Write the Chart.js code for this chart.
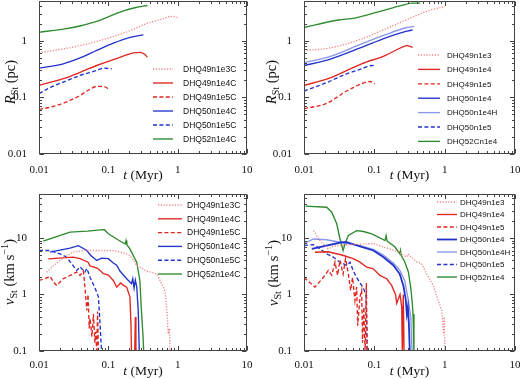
<!DOCTYPE html>
<html>
<head>
<meta charset="utf-8">
<script src="https://cdn.jsdelivr.net/npm/chart.js@4.4.1/dist/chart.umd.min.js"></script>
<style>
  html, body { margin: 0; padding: 0; background: #fff; }
  #wrap { position: relative; width: 520px; height: 379px; overflow: hidden; }
  canvas { position: absolute; }
</style>
</head>
<body>
<div id="wrap">
  <canvas id="pTL" width="260" height="190" style="left:0;top:0"></canvas>
  <canvas id="pTR" width="260" height="190" style="left:260px;top:0"></canvas>
  <canvas id="pBL" width="260" height="189" style="left:0;top:190px"></canvas>
  <canvas id="pBR" width="260" height="189" style="left:260px;top:190px"></canvas>
</div>
<script>
// ── DATA (t in Myr, R_St in pc, v_St in km/s) ─────────────
const xTicks = [0.01, 0.1, 1, 10];
const rTicks = [0.01, 0.1, 1];
const vTicks = [0.1, 1, 10];

const labelsC = ['DHQ49n1e3C', 'DHQ49n1e4C', 'DHQ49n1e5C', 'DHQ50n1e4C', 'DHQ50n1e5C', 'DHQ52n1e4C'];
const labelsTR = ['DHQ49n1e3', 'DHQ49n1e4', 'DHQ49n1e5', 'DHQ50n1e4', 'DHQ50n1e4H', 'DHQ50n1e5', 'DHQ52Cn1e4'];
const labelsBR = ['DHQ49n1e3', 'DHQ49n1e4', 'DHQ49n1e5', 'DHQ50n1e4', 'DHQ50n1e4H', 'DHQ50n1e5', 'DHQ52n1e4'];

// top left
const tTL_49e3 = [0.01, 0.0224, 0.04, 0.068, 0.1, 0.206, 0.358, 0.6, 0.78, 1.02];
const rTL_49e3 = [0.61, 0.715, 0.82, 0.97, 1.11, 1.5, 2.0, 2.4, 2.67, 2.56];
const tTL_49e4 = [0.01, 0.0224, 0.04, 0.068, 0.118, 0.15, 0.229, 0.29, 0.33, 0.366];
const rTL_49e4 = [0.163, 0.213, 0.278, 0.364, 0.464, 0.51, 0.61, 0.62, 0.58, 0.51];
const tTL_49e5 = [0.01, 0.0161, 0.025, 0.039, 0.055, 0.068, 0.085, 0.106];
const rTL_49e5 = [0.061, 0.069, 0.083, 0.108, 0.14, 0.156, 0.155, 0.136];
const tTL_50e4 = [0.01, 0.0224, 0.04, 0.068, 0.118, 0.206, 0.32];
const rTL_50e4 = [0.327, 0.39, 0.5, 0.67, 0.9, 1.14, 1.26];
const tTL_50e5 = [0.01, 0.0144, 0.0224, 0.039, 0.068, 0.0847, 0.112];
const rTL_50e5 = [0.116, 0.148, 0.186, 0.243, 0.298, 0.327, 0.318];
const tTL_52e4 = [0.01, 0.0224, 0.04, 0.068, 0.165, 0.25, 0.366];
const rTL_52e4 = [1.4, 1.6, 1.83, 2.18, 3.36, 3.84, 4.17];

// top right
const tTR_49e3 = [0.01, 0.0222, 0.066, 0.142, 0.34, 0.586, 1.01];
const rTR_49e3 = [0.67, 0.733, 1.07, 1.6, 2.56, 3.36, 4.0];
const tTR_49e4 = [0.01, 0.022, 0.066, 0.142, 0.245, 0.29, 0.35];
const rTR_49e4 = [0.163, 0.213, 0.39, 0.545, 0.76, 0.817, 0.76];
const tTR_49e5 = [0.01, 0.021, 0.029, 0.036, 0.0627, 0.0867, 0.102];
const rTR_49e5 = [0.063, 0.078, 0.099, 0.119, 0.169, 0.19, 0.174];
const tTR_50e4 = [0.01, 0.022, 0.066, 0.142, 0.273, 0.35];
const rTR_50e4 = [0.364, 0.458, 0.76, 1.11, 1.44, 1.54];
const tTR_50e4H = [0.01, 0.022, 0.066, 0.142, 0.273, 0.37];
const rTR_50e4H = [0.41, 0.51, 0.875, 1.26, 1.67, 1.78];
const tTR_50e5 = [0.01, 0.022, 0.0383, 0.066, 0.092, 0.105];
const rTR_50e5 = [0.129, 0.186, 0.253, 0.318, 0.364, 0.355];
const tTR_52e4 = [0.01, 0.0308, 0.053, 0.114, 0.245, 0.34, 0.45];
const rTR_52e4 = [1.71, 2.31, 2.5, 3.22, 4.17, 4.6, 4.6];

// bottom left
const tBL_49e3 = [0.0129, 0.016, 0.02, 0.025, 0.031, 0.044, 0.08, 0.118, 0.16, 0.205, 0.257, 0.285, 0.35, 0.5, 0.62, 0.66, 0.69, 0.71, 0.73, 0.76, 0.78];
const vBL_49e3 = [2.48, 3.2, 4.0, 4.8, 5.6, 6.0, 6.0, 6.0, 5.5, 4.9, 3.26, 3.04, 2.6, 2.33, 1.35, 1.1, 0.6, 0.4, 0.2, 0.25, 0.09];
const tBL_49e4 = [0.0136, 0.031, 0.039, 0.051, 0.0545, 0.07, 0.085, 0.1, 0.118, 0.132, 0.15, 0.165, 0.184, 0.205, 0.212, 0.216, 0.24, 0.245, 0.25];
const vBL_49e4 = [4.28, 4.57, 4.3, 3.73, 3.2, 2.9, 2.33, 2.2, 1.77, 1.35, 1.6, 1.45, 1.35, 0.9, 0.3, 0.09, 0.09, 0.4, 0.09];
const tBL_49e5 = [0.01, 0.0122, 0.0144, 0.016, 0.018, 0.0224, 0.028, 0.031, 0.035, 0.039, 0.0437, 0.046, 0.049, 0.051, 0.053, 0.0545, 0.058, 0.061, 0.064, 0.066, 0.068, 0.07, 0.072];
const vBL_49e5 = [1.77, 1.9, 2.1, 1.7, 1.44, 1.9, 2.17, 2.3, 2.5, 2.17, 2.6, 1.35, 0.52, 1.0, 0.25, 0.38, 0.18, 0.45, 0.14, 0.22, 0.09, 0.5, 0.09];
const tBL_50e4 = [0.0144, 0.028, 0.037, 0.049, 0.055, 0.068, 0.08, 0.1, 0.118, 0.132, 0.147, 0.184, 0.216, 0.225, 0.235, 0.245, 0.257, 0.27, 0.28];
const vBL_50e4 = [5.6, 6.6, 7.3, 6.0, 5.0, 4.0, 4.4, 4.3, 3.6, 3.3, 2.6, 1.9, 1.55, 1.9, 1.3, 1.8, 1.35, 0.52, 0.09];
const tBL_50e5 = [0.01, 0.0144, 0.02, 0.025, 0.0296, 0.035, 0.039, 0.0437, 0.046, 0.049, 0.0545, 0.061, 0.068, 0.072, 0.076, 0.08];
const vBL_50e5 = [6.0, 6.0, 5.25, 4.57, 3.5, 2.66, 3.1, 2.66, 2.5, 2.9, 2.0, 1.5, 1.1, 0.9, 0.3, 0.09];
const tBL_52e4 = [0.0115, 0.028, 0.05, 0.076, 0.088, 0.1, 0.132, 0.175, 0.18, 0.185, 0.205, 0.257, 0.285, 0.3, 0.315, 0.325];
const vBL_52e4 = [8.8, 12.7, 13.2, 13.9, 14.0, 11.9, 9.6, 7.8, 9.0, 7.6, 6.4, 3.7, 1.77, 0.52, 0.2, 0.09];

// bottom right
const tBR_49e3 = [0.0136, 0.0169, 0.022, 0.026, 0.04, 0.07, 0.0968, 0.134, 0.197, 0.26, 0.29, 0.3, 0.4, 0.47, 0.556, 0.69, 0.81, 0.91, 0.96, 0.99, 1.0];
const vBR_49e3 = [13.5, 9.0, 6.4, 7.1, 7.6, 7.8, 8.0, 6.9, 6.0, 5.0, 4.6, 5.2, 3.8, 3.5, 2.3, 1.44, 0.78, 0.52, 0.2, 0.4, 0.09];
const tBR_49e4 = [0.0143, 0.022, 0.0345, 0.05, 0.0625, 0.078, 0.0968, 0.12, 0.15, 0.176, 0.2, 0.208, 0.232, 0.245, 0.25, 0.258, 0.265];
const vBR_49e4 = [5.6, 5.7, 5.0, 4.3, 3.73, 3.04, 2.85, 2.17, 1.9, 1.45, 1.0, 0.7, 1.0, 0.6, 0.09, 1.0, 0.09];
const tBR_49e5 = [0.01, 0.0143, 0.0188, 0.0222, 0.0248, 0.0276, 0.03, 0.0325, 0.036, 0.039, 0.0427, 0.046, 0.049, 0.053, 0.056, 0.058, 0.0625, 0.066, 0.068, 0.071, 0.074, 0.077, 0.079];
const vBR_49e5 = [2.0, 1.35, 2.0, 2.66, 2.2, 3.73, 2.2, 4.0, 2.3, 4.3, 2.3, 1.18, 2.0, 0.78, 1.35, 0.28, 0.9, 1.18, 0.14, 0.6, 0.09, 1.6, 0.09];
const tBR_50e4 = [0.0129, 0.0345, 0.0404, 0.0625, 0.0968, 0.134, 0.186, 0.23, 0.26, 0.28, 0.29, 0.3, 0.31, 0.32];
const vBR_50e4 = [6.4, 8.4, 8.4, 7.1, 6.0, 4.6, 3.3, 2.3, 1.4, 0.8, 0.45, 0.6, 0.3, 0.09];
const tBR_50e4H = [0.01, 0.0136, 0.021, 0.0325, 0.0625, 0.0968, 0.134, 0.186, 0.23, 0.27, 0.305, 0.33, 0.345];
const vBR_50e4H = [7.9, 9.6, 9.3, 8.4, 7.3, 6.3, 5.0, 3.6, 2.7, 1.77, 0.78, 0.4, 0.09];
const tBR_50e5 = [0.01, 0.0136, 0.0169, 0.021, 0.026, 0.0325, 0.0404, 0.0451, 0.05, 0.056, 0.0625, 0.0697, 0.0736, 0.076, 0.078, 0.079];
const vBR_50e5 = [7.4, 7.6, 6.4, 5.25, 4.6, 3.73, 3.26, 3.73, 2.66, 2.0, 1.6, 1.3, 1.1, 1.0, 0.3, 0.09];
const tBR_52e4 = [0.0105, 0.021, 0.0248, 0.0292, 0.0325, 0.036, 0.0383, 0.0427, 0.056, 0.07, 0.092, 0.142, 0.147, 0.152, 0.197, 0.23, 0.235, 0.24, 0.27, 0.305, 0.33, 0.345, 0.355, 0.366];
const vBR_52e4 = [36.5, 35, 28.6, 17.8, 9.6, 6.0, 7.9, 11.1, 13.5, 13.0, 11.8, 9.0, 11, 8.8, 6.9, 5.25, 6.0, 5.0, 3.8, 2.5, 1.3, 0.75, 0.45, 0.09];

// ── STYLES ───────────────────────────────────────
const RED = '#e0261f', PINK = '#f08585', BLUE = '#2233cc', LBLUE = '#8796ea', GREEN = '#2e8b2e';
const DOT = [1.2, 1.6], DASH = [4, 2.4];
const SERIF = '"Liberation Serif", "Times New Roman", serif';
const SANS = '"Liberation Sans", Arial, sans-serif';

const pts = (t, v) => t.map((x, i) => ({ x, y: v[i] }));
const line = (label, t, v, color, dash, width) => ({
  label, data: pts(t, v), borderColor: color, backgroundColor: color,
  borderDash: dash || [], borderWidth: width || 1.35, pointRadius: 0, fill: false
});

// ── PLUGINS ──────────────────────────────────────
function richText(ctx, segs, cx, cy, rot, size) {
  ctx.save();
  ctx.translate(cx, cy);
  ctx.rotate(rot);
  const parts = segs.map(s => {
    const fs = (s.sub || s.sup) ? size * 0.7 : size;
    const font = (s.it ? 'italic ' : '') + fs + 'px ' + SERIF;
    ctx.font = font;
    return { s, font, w: ctx.measureText(s.t).width, dy: s.sub ? size * 0.22 : s.sup ? -size * 0.4 : 0 };
  });
  const total = parts.reduce((a, p) => a + p.w, 0);
  let x = -total / 2;
  ctx.fillStyle = '#111';
  ctx.textBaseline = 'alphabetic';
  ctx.textAlign = 'left';
  parts.forEach(p => {
    ctx.font = p.font;
    ctx.fillText(p.s.t, x, size * 0.33 + p.dy);
    x += p.w;
  });
  ctx.restore();
}

const framePlugin = {
  id: 'frameTicks',
  afterDraw(chart) {
    const { ctx, chartArea: a, scales: { x, y } } = chart;
    const L = Math.round(a.left) + 0.5, R = Math.round(a.right) - 0.5;
    const T = Math.round(a.top) + 0.5, B = Math.round(a.bottom) - 0.5;
    ctx.save();
    ctx.strokeStyle = '#444';
    ctx.lineWidth = 1;
    ctx.beginPath();
    const tickSet = (scale, horiz) => {
      const lo = Math.floor(Math.log10(scale.min)), hi = Math.ceil(Math.log10(scale.max));
      for (let d = lo; d <= hi; d++) {
        for (let m = 1; m <= 9; m++) {
          const v = m * Math.pow(10, d);
          if (v < scale.min * 0.999 || v > scale.max * 1.001) continue;
          const p = Math.round(scale.getPixelForValue(v)) + 0.5;
          const len = m === 1 ? 4.5 : 2.5;
          if (horiz) {
            ctx.moveTo(p, B); ctx.lineTo(p, B - len);
            ctx.moveTo(p, T); ctx.lineTo(p, T + len);
          } else {
            ctx.moveTo(L, p); ctx.lineTo(L + len, p);
            ctx.moveTo(R, p); ctx.lineTo(R - len, p);
          }
        }
      }
    };
    tickSet(x, true);
    tickSet(y, false);
    ctx.stroke();
    ctx.strokeRect(L, T, R - L, B - T);
    ctx.restore();

    const o = chart.options.plugins.panelDeco;
    // legend
    const lg = o.legend;
    ctx.save();
    ctx.font = lg.size + 'px ' + SANS;
    ctx.textBaseline = 'middle';
    ctx.fillStyle = '#111';
    chart.data.datasets.forEach((ds, i) => {
      const yy = lg.y0 + i * lg.dy;
      ctx.strokeStyle = ds.borderColor;
      ctx.lineWidth = ds.borderWidth;
      ctx.setLineDash(ds.borderDash);
      ctx.beginPath();
      ctx.moveTo(lg.x0, yy); ctx.lineTo(lg.x1, yy);
      ctx.stroke();
      ctx.setLineDash([]);
      ctx.fillText(ds.label, lg.tx, yy + 0.5);
    });
    ctx.restore();
    // axis titles
    const cxm = (a.left + a.right) / 2;
    richText(ctx, [{ t: 't', it: true }, { t: ' (Myr)' }], cxm, o.xTitleY, 0, 13.5);
    richText(ctx, o.yTitle, o.yTitleX, o.yTitleY, -Math.PI / 2, 14.5);
  }
};

const R_TITLE = [{ t: 'R', it: true }, { t: 'St', sub: true }, { t: ' (pc)' }];
const V_TITLE = [{ t: 'v', it: true }, { t: 'St', sub: true }, { t: ' (km\u2009s' }, { t: '\u22121', sup: true }, { t: ')' }];

function makePanel(id, datasets, p) {
  new Chart(document.getElementById(id), {
    type: 'line',
    data: { datasets },
    options: {
      responsive: false, animation: false, events: [],
      layout: { padding: p.pad },
      elements: { line: { cubicInterpolationMode: p.smooth ? 'monotone' : 'default', tension: 0 } },
      plugins: { legend: { display: false }, tooltip: { enabled: false }, panelDeco: p.deco },
      scales: {
        x: {
          type: 'logarithmic', min: 0.01, max: 10,
          grid: { display: false }, border: { display: false },
          afterBuildTicks: s => { s.ticks = xTicks.map(v => ({ value: v })); },
          afterFit: s => { s.height = p.xH; s.paddingLeft = 0; s.paddingRight = 0; },
          ticks: { padding: p.xPad, color: '#111', font: { family: SERIF, size: 11 }, maxRotation: 0, callback: v => String(v) }
        },
        y: {
          type: 'logarithmic', min: p.yMin, max: p.yMax,
          grid: { display: false }, border: { display: false },
          afterBuildTicks: s => { s.ticks = p.yTicks.map(v => ({ value: v })); },
          afterFit: s => { s.width = p.yW; s.paddingTop = 0; s.paddingBottom = 0; },
          ticks: { padding: 4, color: '#111', font: { family: SERIF, size: 11 }, callback: v => String(v) }
        }
      }
    },
    plugins: [framePlugin]
  });
}

// ── PANELS ───────────────────────────────────────
makePanel('pTL', [
  line(labelsC[0], tTL_49e3, rTL_49e3, PINK, DOT),
  line(labelsC[1], tTL_49e4, rTL_49e4, RED),
  line(labelsC[2], tTL_49e5, rTL_49e5, RED, DASH),
  line(labelsC[3], tTL_50e4, rTL_50e4, BLUE),
  line(labelsC[4], tTL_50e5, rTL_50e5, BLUE, DASH),
  line(labelsC[5], tTL_52e4, rTL_52e4, GREEN)
], {
  pad: { left: 0, right: 13, top: 1, bottom: 0 }, yW: 39, xH: 36, xPad: 2, smooth: true,
  yMin: 0.01, yMax: 5, yTicks: rTicks,
  deco: { legend: { x0: 153, x1: 173, tx: 183, y0: 69, dy: 14, size: 8.5 }, xTitleY: 175, yTitle: R_TITLE, yTitleX: 10, yTitleY: 82 }
});

makePanel('pTR', [
  line(labelsTR[0], tTR_49e3, rTR_49e3, PINK, DOT),
  line(labelsTR[1], tTR_49e4, rTR_49e4, RED),
  line(labelsTR[2], tTR_49e5, rTR_49e5, RED, DASH),
  line(labelsTR[3], tTR_50e4, rTR_50e4, BLUE),
  line(labelsTR[4], tTR_50e4H, rTR_50e4H, LBLUE),
  line(labelsTR[5], tTR_50e5, rTR_50e5, BLUE, DASH),
  line(labelsTR[6], tTR_52e4, rTR_52e4, GREEN)
], {
  pad: { left: 0, right: 5, top: 1, bottom: 0 }, yW: 44, xH: 36, xPad: 2, smooth: true,
  yMin: 0.01, yMax: 5, yTicks: rTicks,
  deco: { legend: { x0: 158, x1: 180, tx: 187, y0: 55, dy: 14.4, size: 8 }, xTitleY: 175, yTitle: R_TITLE, yTitleX: 11, yTitleY: 82 }
});

makePanel('pBL', [
  line(labelsC[0], tBL_49e3, vBL_49e3, PINK, DOT),
  line(labelsC[1], tBL_49e4, vBL_49e4, RED),
  line(labelsC[2], tBL_49e5, vBL_49e5, RED, DASH),
  line(labelsC[3], tBL_50e4, vBL_50e4, BLUE),
  line(labelsC[4], tBL_50e5, vBL_50e5, BLUE, DASH),
  line(labelsC[5], tBL_52e4, vBL_52e4, GREEN)
], {
  pad: { left: 0, right: 13, top: 4, bottom: 0 }, yW: 39, xH: 28, xPad: 0, smooth: false,
  yMin: 0.1, yMax: 60, yTicks: vTicks,
  deco: { legend: { x0: 158, x1: 182, tx: 187, y0: 15, dy: 13.8, size: 8.5 }, xTitleY: 181, yTitle: V_TITLE, yTitleX: 9, yTitleY: 82 }
});

makePanel('pBR', [
  line(labelsBR[0], tBR_49e3, vBR_49e3, PINK, DOT),
  line(labelsBR[1], tBR_49e4, vBR_49e4, RED),
  line(labelsBR[2], tBR_49e5, vBR_49e5, RED, DASH),
  line(labelsBR[3], tBR_50e4, vBR_50e4, BLUE, null, 1.8),
  line(labelsBR[4], tBR_50e4H, vBR_50e4H, LBLUE),
  line(labelsBR[5], tBR_50e5, vBR_50e5, BLUE, DASH),
  line(labelsBR[6], tBR_52e4, vBR_52e4, GREEN)
], {
  pad: { left: 0, right: 5, top: 4, bottom: 0 }, yW: 44, xH: 28, xPad: 0, smooth: false,
  yMin: 0.1, yMax: 60, yTicks: vTicks,
  deco: { legend: { x0: 177, x1: 197, tx: 200, y0: 12, dy: 12.5, size: 8 }, xTitleY: 181, yTitle: V_TITLE, yTitleX: 13, yTitleY: 83 }
});
</script>
</body>
</html>
